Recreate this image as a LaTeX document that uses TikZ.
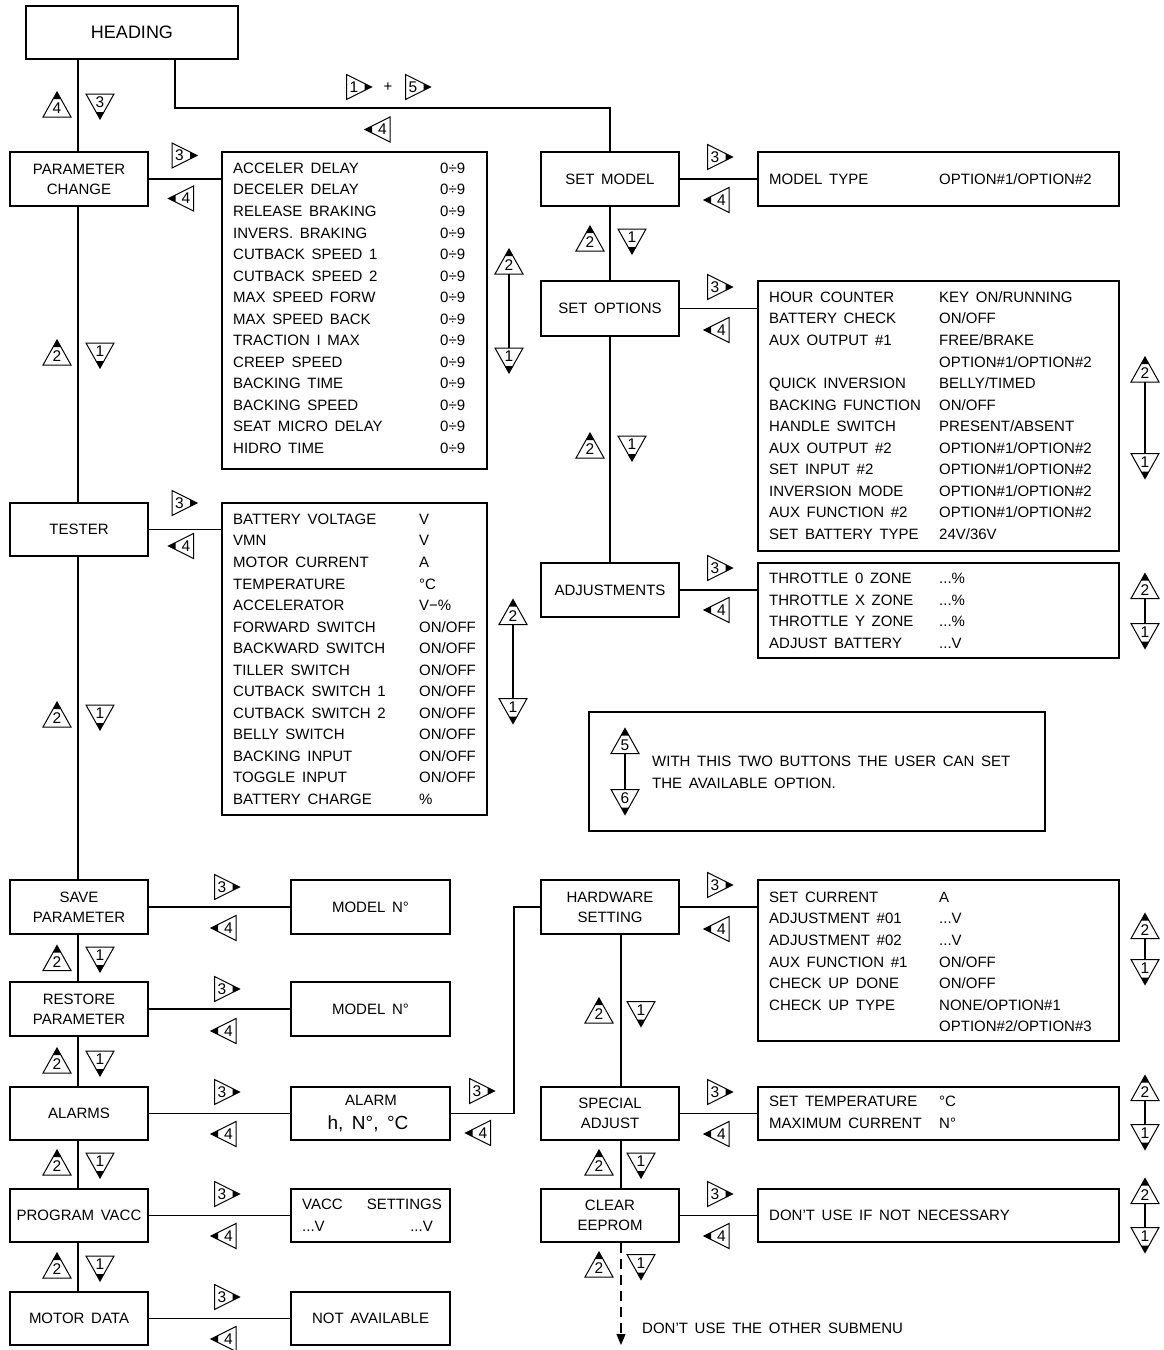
\documentclass[tikz,border=0pt]{standalone}
\usepackage{fontspec}
\setmainfont{Liberation Sans}[WordSpace=1.6]
\usetikzlibrary{arrows.meta}
\newcommand\fsA{\fontsize{15}{20}\selectfont}
\newcommand\fsH{\fontsize{18}{20}\selectfont}
\newcommand\fsB{\fontsize{15.5}{16}\selectfont}
\newcommand\fsC{\fontsize{19}{22}\selectfont}
\tikzset{
  mbox/.style={draw, line width=1.3pt, align=center, inner sep=0pt, font=\fsA},
  txt/.style={anchor=base west, inner sep=0pt, font=\fsA, yshift=-5.4pt},
  rtxt/.style={anchor=base east, inner sep=0pt, font=\fsA, yshift=-5.4pt},
  ctxt/.style={anchor=base, inner sep=0pt, font=\fsA, yshift=-5.4pt},
  conn/.style={line width=1.2pt},
  dbl/.style={line width=2.6pt},
  tri/.style={line width=1pt, line join=miter},
  pics/bR/.style={code={
    \draw[tri] (-12,-12.5) -- (13,0) -- (-12,12.5) -- cycle;
    \fill (13,0) -- (6,-3.5) -- (6,3.5) -- cycle;
    \node[inner sep=0pt, font=\fsB] (n) at (-4.5,0) {#1};}},
  pics/bL/.style={code={
    \draw[tri] (12,-12.5) -- (-13,0) -- (12,12.5) -- cycle;
    \fill (-13,0) -- (-6,-3.5) -- (-6,3.5) -- cycle;
    \node[inner sep=0pt, font=\fsB] (n) at (4.5,0) {#1};}},
  pics/bU/.style={code={
    \draw[tri] (-14,12.5) -- (0,-12.5) -- (14,12.5) -- cycle;
    \fill (0,-12.5) -- (-3.9,-5.5) -- (3.9,-5.5) -- cycle;
    \node[inner sep=0pt, font=\fsB] (n) at (0,4) {#1};}},
  pics/bD/.style={code={
    \draw[tri] (-14,-12.5) -- (0,12.5) -- (14,-12.5) -- cycle;
    \fill (0,12.5) -- (-3.9,5.5) -- (3.9,5.5) -- cycle;
    \node[inner sep=0pt, font=\fsB] (n) at (0,-4) {#1};}},
}
\newcommand\MB[6]{\node[mbox, minimum width={#4-#2}, minimum height={#5-#3}] (#1) at ({(#2+#4)/2},{(#3+#5)/2}) {#6};}
\newcommand\Row[6]{\node[txt] (#1a) at (#2,#4) {#5}; \node[txt] (#1b) at (#3,#4) {#6};}
\newcommand\UD[5]{\pic at (#1,#2) {bU=#4}; \pic at (#1,#3) {bD=#5}; \draw[dbl] (#1,#2+12.5) -- (#1,#3-12.5);}
\begin{document}
\begin{tikzpicture}[x=1pt,y=-1pt]
\useasboundingbox (0,0) rectangle (1163,1350);
% main boxes
\MB{head}{26}{6}{238}{59}{\fsH HEADING}
\MB{pc}{10}{152}{148}{206}{PARAMETER\\CHANGE}
\MB{ts}{10}{503}{148}{556}{TESTER}
\MB{sp}{10}{880}{148}{934}{SAVE\\PARAMETER}
\MB{rp}{10}{982}{148}{1036}{RESTORE\\PARAMETER}
\MB{al}{10}{1087}{148}{1140}{ALARMS}
\MB{pv}{10}{1189}{148}{1242}{PROGRAM VACC}
\MB{md}{10}{1292}{148}{1345}{MOTOR DATA}
\MB{spm}{291}{880}{450}{934}{MODEL N°}
\MB{rpm}{291}{982}{450}{1036}{MODEL N°}
\MB{alm}{291}{1087}{450}{1140}{}
\MB{pvm}{291}{1189}{450}{1242}{}
\MB{mdm}{291}{1292}{450}{1345}{NOT AVAILABLE}
\MB{sm}{541}{152}{679}{206}{SET MODEL}
\MB{so}{541}{281}{679}{336}{SET OPTIONS}
\MB{ad}{541}{563}{679}{617}{ADJUSTMENTS}
\MB{hw}{541}{880}{679}{934}{HARDWARE\\SETTING}
\MB{sa}{541}{1087}{679}{1140}{SPECIAL\\ADJUST}
\MB{ce}{541}{1189}{679}{1242}{CLEAR\\EEPROM}
% list boxes
\MB{pcl}{222}{152}{487}{469}{}
\MB{tsl}{222}{503}{487}{815}{}
\MB{sml}{758}{152}{1119}{206}{}
\MB{sol}{758}{281}{1119}{551}{}
\MB{adl}{758}{563}{1119}{658}{}
\MB{hwl}{758}{880}{1119}{1041}{}
\MB{sal}{758}{1087}{1119}{1140}{}
\MB{cel}{758}{1189}{1119}{1242}{}
\MB{note}{589}{712}{1045}{831}{}
% connectors
\coordinate (lx) at (78,0);
\coordinate (rx) at (621,0);
\coordinate (hk) at (175,108);
\coordinate (ak) at (514,1113);
\coordinate (dend) at (621,1345);
\draw[conn] (head.south -| lx) -- (pc.north -| lx);
\draw[conn] (pc.south -| lx) -- (ts.north -| lx);
\draw[conn] (ts.south -| lx) -- (sp.north -| lx);
\draw[conn] (sp.south -| lx) -- (rp.north -| lx);
\draw[conn] (rp.south -| lx) -- (al.north -| lx);
\draw[conn] (al.south -| lx) -- (pv.north -| lx);
\draw[conn] (pv.south -| lx) -- (md.north -| lx);
\draw[conn] (head.south -| hk) -- (hk) -| (sm.north);
\draw[conn] (pc.east) -- (pc.east -| pcl.west);
\draw[conn] (ts.east) -- (ts.east -| tsl.west);
\draw[conn] (sp.east) -- (spm.west);
\draw[conn] (rp.east) -- (rpm.west);
\draw[conn] (al.east) -- (alm.west);
\draw[conn] (pv.east) -- (pvm.west);
\draw[conn] (md.east) -- (mdm.west);
\draw[conn] (alm.east) -- (alm.east -| ak) |- (hw.west);
\draw[conn] (sm.east) -- (sml.west);
\draw[conn] (so.east) -- (so.east -| sol.west);
\draw[conn] (ad.east) -- (ad.east -| adl.west);
\draw[conn] (hw.east) -- (hw.east -| hwl.west);
\draw[conn] (sa.east) -- (sal.west);
\draw[conn] (ce.east) -- (cel.west);
\draw[conn] (sm.south) -- (so.north);
\draw[conn] (so.south) -- (ad.north);
\draw[conn] (hw.south -| rx) -- (sa.north -| rx);
\draw[conn] (sa.south -| rx) -- (ce.north -| rx);
\draw[line width=1.1pt, dash pattern=on 10pt off 6pt, -{Triangle[length=11pt,width=9pt]}] (ce.south -| dend) -- (dend);
% parameter change list
\Row{p1}{233}{440}{168}{ACCELER DELAY}{0÷9}
\Row{p2}{233}{440}{189.5}{DECELER DELAY}{0÷9}
\Row{p3}{233}{440}{211}{RELEASE BRAKING}{0÷9}
\Row{p4}{233}{440}{232.6}{INVERS. BRAKING}{0÷9}
\Row{p5}{233}{440}{254}{CUTBACK SPEED 1}{0÷9}
\Row{p6}{233}{440}{275.7}{CUTBACK SPEED 2}{0÷9}
\Row{p7}{233}{440}{297}{MAX SPEED FORW}{0÷9}
\Row{p8}{233}{440}{318.8}{MAX SPEED BACK}{0÷9}
\Row{p9}{233}{440}{340}{TRACTION I MAX}{0÷9}
\Row{p10}{233}{440}{362}{CREEP SPEED}{0÷9}
\Row{p11}{233}{440}{383}{BACKING TIME}{0÷9}
\Row{p12}{233}{440}{405}{BACKING SPEED}{0÷9}
\Row{p13}{233}{440}{426}{SEAT MICRO DELAY}{0÷9}
\Row{p14}{233}{440}{448}{HIDRO TIME}{0÷9}
% tester list
\Row{t1}{233}{419}{519}{BATTERY VOLTAGE}{V}
\Row{t2}{233}{419}{540.5}{VMN}{V}
\Row{t3}{233}{419}{562}{MOTOR CURRENT}{A}
\Row{t4}{233}{419}{583.6}{TEMPERATURE}{°C}
\Row{t5}{233}{419}{605}{ACCELERATOR}{V−\%}
\Row{t6}{233}{419}{626.7}{FORWARD SWITCH}{ON/OFF}
\Row{t7}{233}{419}{648}{BACKWARD SWITCH}{ON/OFF}
\Row{t8}{233}{419}{669.8}{TILLER SWITCH}{ON/OFF}
\Row{t9}{233}{419}{691}{CUTBACK SWITCH 1}{ON/OFF}
\Row{t10}{233}{419}{712.9}{CUTBACK SWITCH 2}{ON/OFF}
\Row{t11}{233}{419}{734}{BELLY SWITCH}{ON/OFF}
\Row{t12}{233}{419}{756}{BACKING INPUT}{ON/OFF}
\Row{t13}{233}{419}{777.5}{TOGGLE INPUT}{ON/OFF}
\Row{t14}{233}{419}{799}{BATTERY CHARGE}{\%}
% set model
\Row{m1}{769}{939}{179}{MODEL TYPE}{OPTION\#1/OPTION\#2}
% options
\Row{o1}{769}{939}{297}{HOUR COUNTER}{KEY ON/RUNNING}
\Row{o2}{769}{939}{318.5}{BATTERY CHECK}{ON/OFF}
\Row{o3}{769}{939}{340}{AUX OUTPUT \#1}{FREE/BRAKE}
\Row{o4}{769}{939}{361.6}{}{OPTION\#1/OPTION\#2}
\Row{o5}{769}{939}{383}{QUICK INVERSION}{BELLY/TIMED}
\Row{o6}{769}{939}{404.7}{BACKING FUNCTION}{ON/OFF}
\Row{o7}{769}{939}{426}{HANDLE SWITCH}{PRESENT/ABSENT}
\Row{o8}{769}{939}{447.8}{AUX OUTPUT \#2}{OPTION\#1/OPTION\#2}
\Row{o9}{769}{939}{469}{SET INPUT \#2}{OPTION\#1/OPTION\#2}
\Row{o10}{769}{939}{490.9}{INVERSION MODE}{OPTION\#1/OPTION\#2}
\Row{o11}{769}{939}{512}{AUX FUNCTION \#2}{OPTION\#1/OPTION\#2}
\Row{o12}{769}{939}{534}{SET BATTERY TYPE}{24V/36V}
% adjustments
\Row{a1}{769}{939}{578}{THROTTLE 0 ZONE}{...\%}
\Row{a2}{769}{939}{600}{THROTTLE X ZONE}{...\%}
\Row{a3}{769}{939}{621}{THROTTLE Y ZONE}{...\%}
\Row{a4}{769}{939}{643}{ADJUST BATTERY}{...V}
% hardware
\Row{h1}{769}{939}{897}{SET CURRENT}{A}
\Row{h2}{769}{939}{918.5}{ADJUSTMENT \#01}{...V}
\Row{h3}{769}{939}{940}{ADJUSTMENT \#02}{...V}
\Row{h4}{769}{939}{961.6}{AUX FUNCTION \#1}{ON/OFF}
\Row{h5}{769}{939}{983}{CHECK UP DONE}{ON/OFF}
\Row{h6}{769}{939}{1004.7}{CHECK UP TYPE}{NONE/OPTION\#1}
\Row{h7}{769}{939}{1026}{}{OPTION\#2/OPTION\#3}
% special adjust
\Row{s1}{769}{939}{1101}{SET TEMPERATURE}{°C}
\Row{s2}{769}{939}{1123}{MAXIMUM CURRENT}{N°}
% clear eeprom
\node[txt] (c1) at (769,1215) {DON'T USE IF NOT NECESSARY};
% alarm box
\node[ctxt] (alt1) at (371,1100) {ALARM};
\node[anchor=base, inner sep=0pt, font=\fsC] (alt2) at (368,1129) {h, N°, °C};
% vacc box
\node[txt] (pv1) at (302,1204) {VACC};
\node[rtxt] (pv2) at (442,1204) {SETTINGS};
\node[txt] (pv3) at (302,1226) {...V};
\node[rtxt] (pv4) at (433,1226) {...V};
% note
\node[txt] (nt1) at (652,761) {WITH THIS TWO BUTTONS THE USER CAN SET};
\node[txt] (nt2) at (652,783) {THE AVAILABLE OPTION.};
\node[txt] (dn) at (642,1328) {DON'T USE THE OTHER SUBMENU};
% heading buttons
\pic at (358.5,87) {bR=1};
\node[inner sep=0pt, font=\fsA] (plus) at (388,87) {+};
\pic at (417.5,87) {bR=5};
\pic at (378,129.5) {bL=4};
% left column up/down
\pic at (57,104.5) {bU=4}; \pic at (100,106.5) {bD=3};
\pic at (57,352.5) {bU=2}; \pic at (100,355.5) {bD=1};
\pic at (57,714.5) {bU=2}; \pic at (100,717.5) {bD=1};
\pic at (57,958) {bU=2}; \pic at (100,959.5) {bD=1};
\pic at (57,1060.5) {bU=2}; \pic at (100,1063.5) {bD=1};
\pic at (57,1162.5) {bU=2}; \pic at (100,1165.5) {bD=1};
\pic at (57,1265.5) {bU=2}; \pic at (100,1268.5) {bD=1};
% right column up/down
\pic at (590,238.5) {bU=2}; \pic at (632,241.5) {bD=1};
\pic at (590,445.5) {bU=2}; \pic at (632,448.5) {bD=1};
\pic at (599,1010.5) {bU=2}; \pic at (641,1014) {bD=1};
\pic at (599,1162.5) {bU=2}; \pic at (641,1165.5) {bD=1};
\pic at (599,1264.5) {bU=2}; \pic at (641,1267) {bD=1};
% right/left buttons
\pic at (184,155.5) {bR=3}; \pic at (181.5,198.5) {bL=4};
\pic at (184,503) {bR=3}; \pic at (181.5,546) {bL=4};
\pic at (226.5,887) {bR=3}; \pic at (224,928) {bL=4};
\pic at (226.5,989) {bR=3}; \pic at (224,1031) {bL=4};
\pic at (226.5,1092) {bR=3}; \pic at (224,1134) {bL=4};
\pic at (226.5,1194) {bR=3}; \pic at (224,1236) {bL=4};
\pic at (226.5,1297) {bR=3}; \pic at (224,1339) {bL=4};
\pic at (481.5,1091) {bR=3}; \pic at (478.5,1133) {bL=4};
\pic at (719.5,157) {bR=3}; \pic at (717,200) {bL=4};
\pic at (719.5,287) {bR=3}; \pic at (717,330) {bL=4};
\pic at (719.5,568) {bR=3}; \pic at (717,610) {bL=4};
\pic at (719.5,885) {bR=3}; \pic at (717,929) {bL=4};
\pic at (719.5,1092) {bR=3}; \pic at (717,1134) {bL=4};
\pic at (719.5,1194) {bR=3}; \pic at (717,1236) {bL=4};
% side double arrows
\UD{509}{261.5}{360.5}{2}{1}
\UD{513}{612}{711}{2}{1}
\UD{1145}{369.5}{466}{2}{1}
\UD{1145}{586}{636}{2}{1}
\UD{1145}{926}{972}{2}{1}
\UD{1145}{1088}{1137}{2}{1}
\UD{1145}{1191}{1240}{2}{1}
\UD{625}{741}{802}{5}{6}
\end{tikzpicture}
\end{document}
